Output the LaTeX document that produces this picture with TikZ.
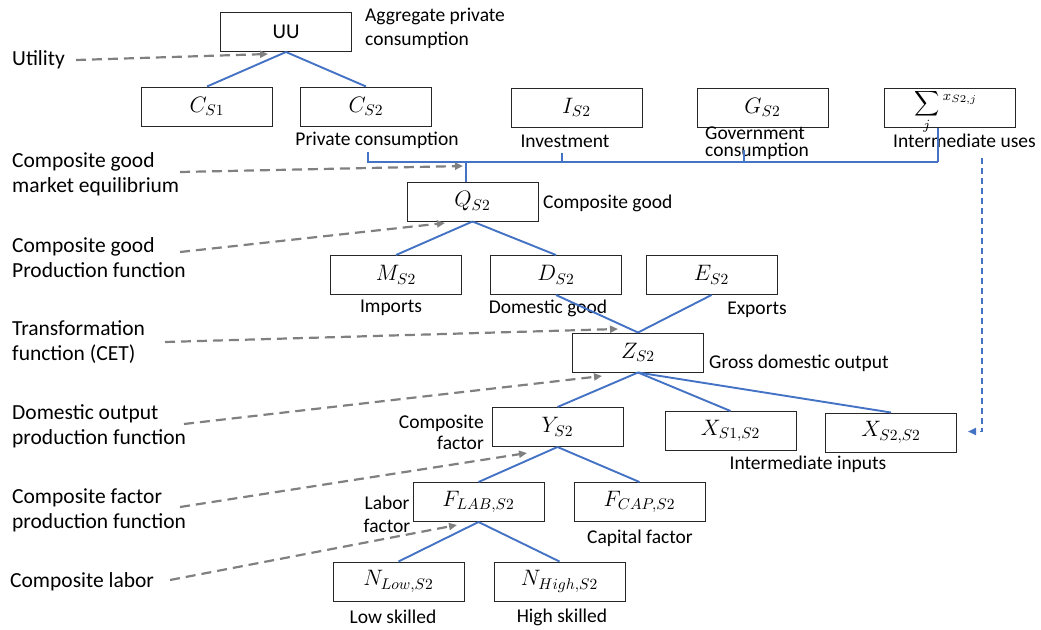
\documentclass[tikz,border=0pt]{standalone}
\usepackage{graphicx}
\usepackage{fontspec}
\setmainfont{Carlito}
\usetikzlibrary{arrows.meta,calc}
\definecolor{linkblue}{HTML}{4472C4}
\definecolor{arrowgray}{HTML}{808080}
\newcommand\boxmath[1]{\scalebox{1.55}{\fontsize{14.4}{14.4}\selectfont$#1$}}
\tikzset{
  box/.style={draw=black!85, line width=1pt, minimum width=131pt, minimum height=39pt, inner sep=0pt, font=\fontsize{21}{21}\selectfont},
  link/.style={draw=linkblue, line width=1.9pt},
  garrow/.style={draw=arrowgray, line width=2.2pt, dash pattern=on 10pt off 6pt, -{Triangle[length=8pt,width=7pt]}},
  barrow/.style={draw=linkblue, line width=1.8pt, dash pattern=on 6pt off 4pt, -{Triangle[length=8pt,width=7pt]}},
  lbl/.style={font=\fontsize{19.5}{24}\selectfont, inner sep=0pt},
  side/.style={font=\fontsize{21.5}{25}\selectfont, inner sep=0pt, align=left, anchor=west},
}
\begin{document}
\begin{tikzpicture}[x=1pt,y=-1pt]
\useasboundingbox (0,0) rectangle (1041,629);
% boxes
\node[box] (uu) at (286,32) {UU};
\node[box] (cs1) at (207,106.5) {\boxmath{C_{S1}}};
\node[box] (cs2) at (366,106.5) {\boxmath{C_{S2}}};
\node[box] (is2) at (576.5,107.5) {\boxmath{I_{S2}}};
\node[box] (gs2) at (762.5,107.5) {\boxmath{G_{S2}}};
\node[box] (sx) at (949.5,107.5) {};
\node[inner sep=0pt] (sxt) at (946,112) {\scalebox{1.75}{\fontsize{12}{12}\selectfont$\displaystyle\sum_{j}{}^{x_{S2,j}}$}};
\node[box] (q) at (472.5,201.5) {\boxmath{Q_{S2}}};
\node[box] (m) at (396,275) {\boxmath{M_{S2}}};
\node[box] (d) at (556,275) {\boxmath{D_{S2}}};
\node[box] (e) at (711.5,275) {\boxmath{E_{S2}}};
\node[box] (z) at (638,352.5) {\boxmath{Z_{S2}}};
\node[box] (y) at (557.5,427) {\boxmath{Y_{S2}}};
\node[box] (x1) at (730.5,431) {\boxmath{X_{S1,S2}}};
\node[box] (x2) at (891,432.5) {\boxmath{X_{S2,S2}}};
\node[box] (flab) at (478.5,502) {\boxmath{F_{LAB,S2}}};
\node[box] (fcap) at (639.5,502) {\boxmath{F_{CAP,S2}}};
\node[box] (nlow) at (398.5,581.5) {\boxmath{N_{Low,S2}}};
\node[box] (nhigh) at (559.5,581.5) {\boxmath{N_{High,S2}}};
% labels near boxes
\node[lbl, align=left, anchor=west] (lagg) at (365,28) {Aggregate private\\consumption};
\node[lbl] (lpc) at (377,140) {Private consumption};
\node[lbl] (linv) at (565,141) {Investment};
\node[lbl, align=left, anchor=west, font=\fontsize{19.5}{17}\selectfont] (lgov) at (705,143.5) {Government\\consumption};
\node[lbl, anchor=west] (lint) at (893,141) {Intermediate uses};
\node[lbl, anchor=west] (lcg) at (543,203) {Composite good};
\node[lbl] (limp) at (391,308) {Imports};
\node[lbl] (ldom) at (548,308) {Domestic good};
\node[lbl] (lexp) at (757,310) {Exports};
\node[lbl, anchor=west] (lgdo) at (709,363) {Gross domestic output};
\node[lbl, align=right, anchor=east, font=\fontsize{19.5}{21}\selectfont] (lcf) at (484,432.5) {Composite\\factor};
\node[lbl] (lii) at (808,464) {Intermediate inputs};
\node[lbl, align=center, font=\fontsize{19.5}{23}\selectfont] (llab) at (387,514.5) {Labor\\factor};
\node[lbl] (lcap) at (640,538) {Capital factor};
\node[lbl] (llow) at (393,617) {Low skilled};
\node[lbl] (lhigh) at (562,617) {High skilled};
% side labels
\node[side] (s1) at (12,60) {Utility};
\node[side] (s2) at (12,174.5) {Composite good\\market equilibrium};
\node[side] (s3) at (12,258) {Composite good\\Production function};
\node[side] (s4) at (12,342) {Transformation\\function (CET)};
\node[side] (s5) at (12,426.5) {Domestic output\\production function};
\node[side] (s6) at (12,510) {Composite factor\\production function};
\node[side] (s7) at (10,582) {Composite labor};
% tree links
\draw[link] (uu.south) -- (cs1.north);
\draw[link] (uu.south) -- (cs2.north);
\coordinate (bpc) at (368,152);
\coordinate (bpcb) at (368,162);
\coordinate (binv) at (562,153);
\coordinate (binvb) at (562,162);
\coordinate (bgov) at (744,150);
\coordinate (bgovb) at (744,162);
\coordinate (bint) at (938,162);
\coordinate (bq) at (466,162);
\draw[link] (bpc) -- (bpcb) -- (bint);
\draw[link] (binv) -- (binvb);
\draw[link] (bgov) -- (bgovb);
\draw[link] ($(sx.south)+(-11.5,0)$) -- (bint);
\draw[link] (bq) -- ($(q.north)+(-6.5,0)$);
\draw[link] (q.south) -- (m.north);
\draw[link] (q.south) -- (d.north);
\draw[link] (d.south) -- (z.north);
\draw[link] (e.south) -- (z.north);
\draw[link] (z.south) -- (y.north);
\draw[link] (z.south) -- (x1.north);
\draw[link] (z.south) -- (x2.north);
\draw[link] (y.south) -- (flab.north);
\draw[link] (y.south) -- (fcap.north);
\draw[link] (flab.south) -- (nlow.north);
\draw[link] (flab.south) -- (nhigh.north);
% blue dashed arrow
\coordinate (bd) at (982,158);
\draw[barrow] (bd) |- ($(x2.east)+(11,-1)$);
% gray dashed arrows
\coordinate (a1s) at (76,60);   \coordinate (a1t) at (268,54);
\coordinate (a2s) at (180,172); \coordinate (a2t) at (463,166);
\coordinate (a3s) at (180,252); \coordinate (a3t) at (445,223);
\coordinate (a4s) at (165,342); \coordinate (a4t) at (618,329);
\coordinate (a5s) at (184,424); \coordinate (a5t) at (602,376);
\coordinate (a6s) at (180,507); \coordinate (a6t) at (527,453);
\coordinate (a7s) at (170,580); \coordinate (a7t) at (457,525);
\draw[garrow] (a1s) -- (a1t);
\draw[garrow] (a2s) -- (a2t);
\draw[garrow] (a3s) -- (a3t);
\draw[garrow] (a4s) -- (a4t);
\draw[garrow] (a5s) -- (a5t);
\draw[garrow] (a6s) -- (a6t);
\draw[garrow] (a7s) -- (a7t);
\end{tikzpicture}
\end{document}
